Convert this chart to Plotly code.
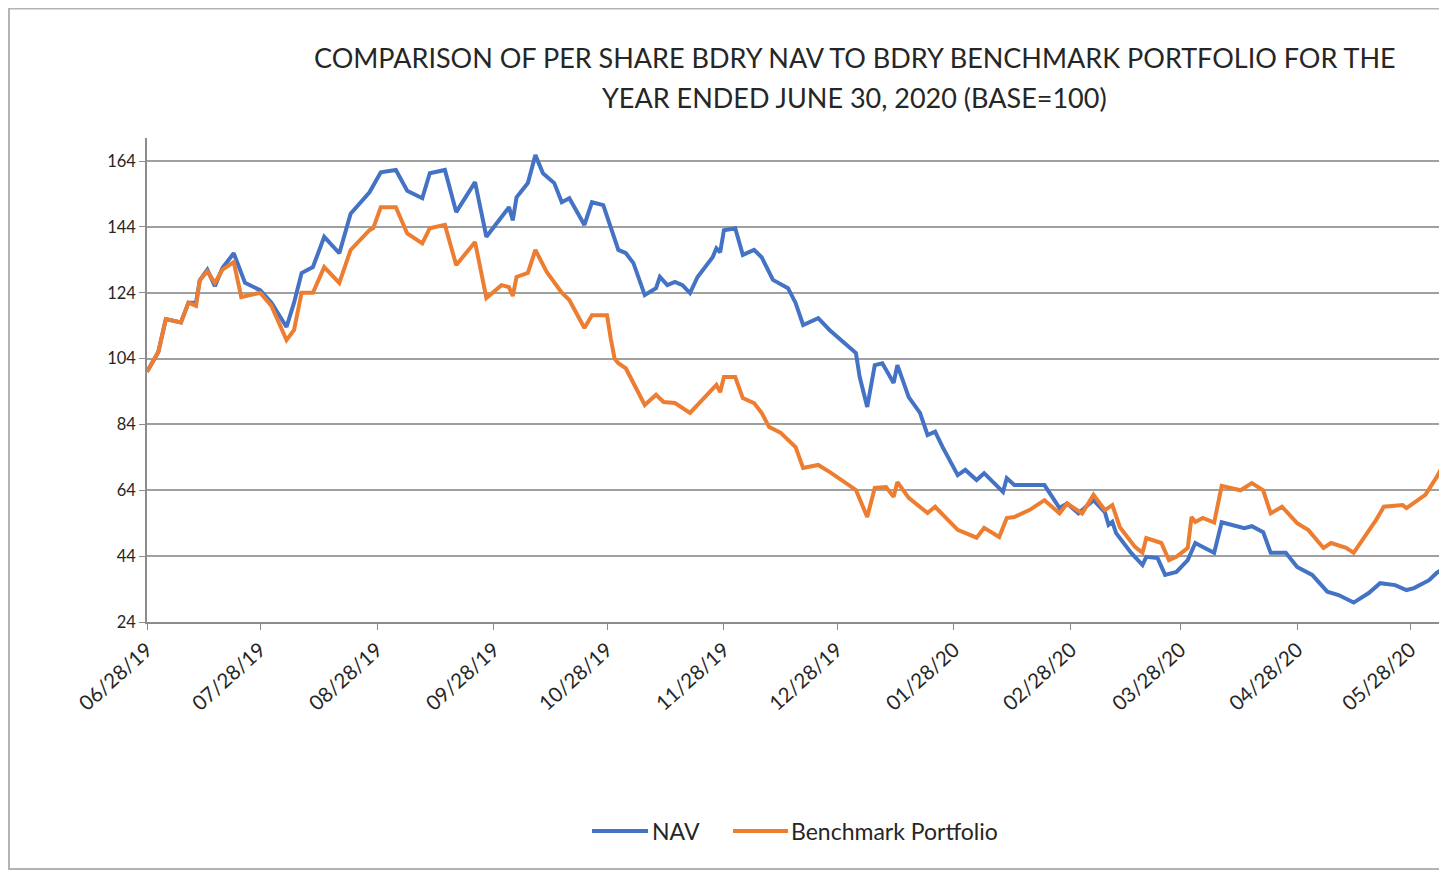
import plotly.graph_objects as go

nav_dates = ["2019-06-28","2019-07-01","2019-07-03","2019-07-07","2019-07-09","2019-07-11","2019-07-12","2019-07-14","2019-07-16","2019-07-18","2019-07-21","2019-07-24","2019-07-28","2019-07-31","2019-08-04","2019-08-06","2019-08-08","2019-08-11","2019-08-14","2019-08-18","2019-08-21","2019-08-26","2019-08-29","2019-09-02","2019-09-05","2019-09-09","2019-09-11","2019-09-15","2019-09-18","2019-09-23","2019-09-26","2019-09-30","2019-10-02","2019-10-03","2019-10-04","2019-10-07","2019-10-09","2019-10-11","2019-10-14","2019-10-16","2019-10-18","2019-10-22","2019-10-24","2019-10-27","2019-10-29","2019-10-31","2019-11-02","2019-11-04","2019-11-07","2019-11-10","2019-11-11","2019-11-13","2019-11-15","2019-11-17","2019-11-19","2019-11-21","2019-11-25","2019-11-26","2019-11-27","2019-11-28","2019-12-01","2019-12-03","2019-12-06","2019-12-08","2019-12-11","2019-12-15","2019-12-17","2019-12-19","2019-12-23","2019-12-26","2020-01-02","2020-01-03","2020-01-05","2020-01-07","2020-01-09","2020-01-12","2020-01-13","2020-01-16","2020-01-19","2020-01-21","2020-01-23","2020-01-25","2020-01-29","2020-01-31","2020-02-03","2020-02-05","2020-02-10","2020-02-11","2020-02-13","2020-02-21","2020-02-25","2020-02-27","2020-03-01","2020-03-05","2020-03-08","2020-03-09","2020-03-10","2020-03-11","2020-03-15","2020-03-18","2020-03-19","2020-03-22","2020-03-24","2020-03-27","2020-03-30","2020-04-01","2020-04-03","2020-04-06","2020-04-08","2020-04-14","2020-04-16","2020-04-19","2020-04-21","2020-04-25","2020-04-28","2020-05-02","2020-05-06","2020-05-09","2020-05-13","2020-05-17","2020-05-20","2020-05-24","2020-05-27","2020-05-29","2020-06-02","2020-06-04","2020-06-06"]
nav_values = [100,106,116,115,121,121,127.8,131,126,131.5,136,127,124.8,121,113.6,121,130,131.8,141,136,148,154.5,160.6,161.3,155,152.7,160.3,161.3,148.5,157.6,141,147,150,146,153,157.3,165.8,160.3,157.3,151.5,152.7,144.6,151.5,150.6,144,137,136,133,123.3,125.4,128.8,126.3,127.3,126.3,123.9,128.8,134.8,137.5,136.3,143,143.6,135.5,137,134.8,127.9,125.4,120.9,114.2,116.3,112.7,105.7,98.4,89.3,102,102.6,96.6,102,92.3,87.5,80.8,81.8,77.1,68.6,70.2,67.1,69.2,63.5,67.7,65.6,65.6,58.6,60,57,61,57.4,53.5,54.4,51,45,41.3,43.8,43.4,38.3,39.2,42.8,48,46.8,45,54.3,52.5,53.1,51.3,45,45,40.7,38.3,33.2,32.2,29.9,32.8,35.8,35.2,33.7,34.3,36.7,38.9,40.4]

bench_dates = ["2019-06-28","2019-07-01","2019-07-03","2019-07-07","2019-07-09","2019-07-11","2019-07-12","2019-07-14","2019-07-16","2019-07-18","2019-07-21","2019-07-23","2019-07-28","2019-07-31","2019-08-04","2019-08-06","2019-08-08","2019-08-11","2019-08-14","2019-08-18","2019-08-21","2019-08-26","2019-08-27","2019-08-29","2019-09-02","2019-09-05","2019-09-09","2019-09-11","2019-09-15","2019-09-18","2019-09-23","2019-09-26","2019-09-30","2019-10-02","2019-10-03","2019-10-04","2019-10-07","2019-10-09","2019-10-12","2019-10-16","2019-10-18","2019-10-22","2019-10-24","2019-10-28","2019-10-29","2019-10-30","2019-10-31","2019-11-02","2019-11-07","2019-11-10","2019-11-12","2019-11-15","2019-11-19","2019-11-23","2019-11-26","2019-11-27","2019-11-28","2019-12-01","2019-12-03","2019-12-06","2019-12-08","2019-12-10","2019-12-13","2019-12-17","2019-12-19","2019-12-23","2019-12-26","2020-01-02","2020-01-05","2020-01-07","2020-01-10","2020-01-12","2020-01-13","2020-01-16","2020-01-21","2020-01-23","2020-01-29","2020-02-03","2020-02-05","2020-02-09","2020-02-11","2020-02-13","2020-02-17","2020-02-21","2020-02-25","2020-02-27","2020-03-02","2020-03-05","2020-03-08","2020-03-10","2020-03-12","2020-03-16","2020-03-18","2020-03-19","2020-03-23","2020-03-25","2020-03-27","2020-03-30","2020-03-31","2020-04-01","2020-04-03","2020-04-06","2020-04-08","2020-04-13","2020-04-16","2020-04-19","2020-04-21","2020-04-24","2020-04-28","2020-05-01","2020-05-05","2020-05-07","2020-05-11","2020-05-13","2020-05-16","2020-05-19","2020-05-21","2020-05-26","2020-05-27","2020-06-01","2020-06-04","2020-06-06"]
bench_values = [100,106,116,115,121,120,127.8,130.5,127,131,133.3,122.7,124,120,109.6,112.7,124,124,131.8,127,137,143,143.6,150,150,142,139,143.6,144.6,132.4,139.4,122.4,126.3,125.7,123,128.8,130,137,130.3,124,121.8,113.3,117.2,117.2,110,104,102.6,101,89.9,93,90.8,90.5,87.5,92.3,96,93.8,98.4,98.4,92,90.5,87.5,83.2,81.5,77.1,70.8,71.7,69.6,64.1,55.9,64.7,65,62,66.5,61.7,57.1,59,52,49.6,52.6,49.8,55.6,55.9,58,61,57,60,57,62.6,58,59.5,52.8,46.8,45,49.5,48,42.8,43.8,46.5,55.9,54.4,55.6,54.2,65.3,64,66.2,64,57,59,54,51.9,46.5,48,46.5,45,49.9,55.1,59,59.5,58.6,62.6,68,72.3]

tick_dates = ["2019-06-28","2019-07-28","2019-08-28","2019-09-28","2019-10-28","2019-11-28","2019-12-28","2020-01-28","2020-02-28","2020-03-28","2020-04-28","2020-05-28"]
y_ticks = [24, 44, 64, 84, 104, 124, 144, 164]

title_line1 = "COMPARISON OF PER SHARE BDRY NAV TO BDRY BENCHMARK PORTFOLIO FOR THE"
title_line2 = "YEAR ENDED JUNE 30, 2020 (BASE=100)"
nav_name = "NAV"
bench_name = "Benchmark Portfolio"
nav_color = "#4472C4"
bench_color = "#ED7D31"

FONT = "Lato, 'Open Sans', sans-serif"

fig = go.Figure()
fig.add_trace(go.Scatter(x=nav_dates, y=nav_values, mode="lines", name=nav_name,
                         line=dict(color=nav_color, width=4), showlegend=False))
fig.add_trace(go.Scatter(x=bench_dates, y=bench_values, mode="lines", name=bench_name,
                         line=dict(color=bench_color, width=4), showlegend=False))

fig.update_layout(
    width=1447, height=871,
    margin=dict(l=139, r=8, t=130, b=257),
    paper_bgcolor="white", plot_bgcolor="white",
    font=dict(family=FONT, color="#262626"),
    xaxis=dict(type="date", range=["2019-06-28", "2020-06-06 18:00"],
               tickvals=tick_dates, tickformat="%m/%d/%y", tickangle=-42,
               tickfont=dict(size=20.5, color="#262626"),
               showgrid=False, showline=True, linecolor="#8c8c8c", linewidth=1.5,
               ticks="outside", ticklen=6, tickcolor="#8c8c8c", zeroline=False),
    yaxis=dict(range=[24, 171], tickvals=y_ticks,
               tickfont=dict(size=16.5, color="#262626"),
               showgrid=True, gridcolor="#a0a0a0", gridwidth=1.5,
               showline=True, linecolor="#8c8c8c", linewidth=1.5,
               ticks="outside", ticklen=6, tickcolor="#8c8c8c", zeroline=False),
)

fig.add_annotation(text=title_line1, xref="paper", yref="paper", x=0.5446, y=1.167,
                   showarrow=False, xanchor="center", yanchor="middle",
                   font=dict(size=27, color="#262626", family=FONT))
fig.add_annotation(text=title_line2, xref="paper", yref="paper", x=0.5446, y=1.0847,
                   showarrow=False, xanchor="center", yanchor="middle",
                   font=dict(size=27, color="#262626", family=FONT))

# legend drawn as line samples + labels
leg_y = -0.4318
for x0, x1, tx, color, label in [(0.3423, 0.3854, 0.3870, nav_color, nav_name),
                                 (0.4508, 0.4931, 0.4940, bench_color, bench_name)]:
    fig.add_shape(type="line", xref="paper", yref="paper", x0=x0, x1=x1, y0=leg_y, y1=leg_y,
                  line=dict(color=color, width=4))
    fig.add_annotation(text=label, xref="paper", yref="paper", x=tx, y=leg_y,
                       showarrow=False, xanchor="left", yanchor="middle",
                       font=dict(size=23, color="#262626", family=FONT))

fig.add_shape(type="rect", xref="paper", yref="paper", x0=-0.1062, x1=1.02, y0=-0.5103, y1=1.2676,
              line=dict(color="#b3b3b3", width=2), fillcolor="rgba(0,0,0,0)", layer="below")

fig.write_html("out.html")
